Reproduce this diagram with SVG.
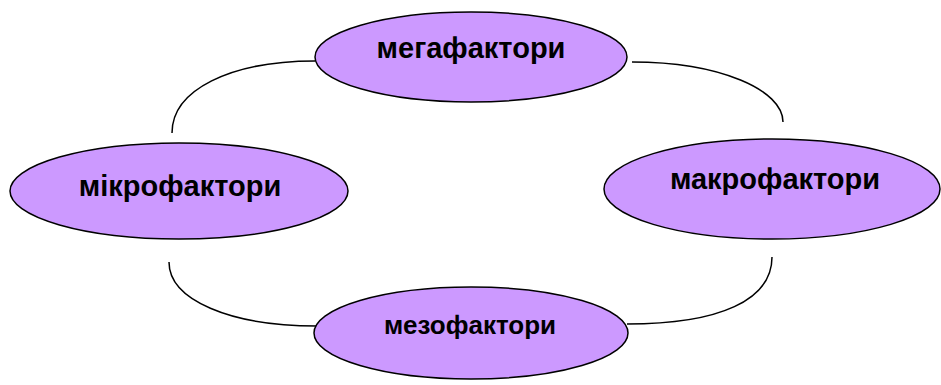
<svg xmlns="http://www.w3.org/2000/svg" width="941" height="385" viewBox="0 0 941 385">
<style>
.node ellipse{fill:#cc99ff;stroke:#000;stroke-width:1.5}
.node text{font-family:"Liberation Sans",Arial,sans-serif;font-weight:bold;font-size:29px;fill:#000;text-anchor:middle}
.conn path{fill:none;stroke:#000;stroke-width:1.5}
</style>
<rect width="941" height="385" fill="#fff"/>
<g id="connectors" class="conn">
<path d="M172,133 C172,90 230,61 315,61"/>
<path d="M632,62 C720,62 783,90 783,122"/>
<path d="M169,262 C169,300 230,326 317,326"/>
<path d="M627,324 C720,324 772,300 772,257"/>
</g>
<g id="mega" class="node">
<ellipse cx="471" cy="57" rx="156" ry="45"/>
<text x="471" y="58">мегафактори</text>
</g>
<g id="makro" class="node">
<ellipse cx="772" cy="189" rx="168" ry="50"/>
<text x="775" y="189">макрофактори</text>
</g>
<g id="mikro" class="node">
<ellipse cx="179" cy="191" rx="169" ry="48"/>
<text x="180" y="196">мікрофактори</text>
</g>
<g id="mezo" class="node">
<ellipse cx="471" cy="333" rx="157" ry="46"/>
<text x="470" y="334" style="font-size:26px">мезофактори</text>
</g>
</svg>
